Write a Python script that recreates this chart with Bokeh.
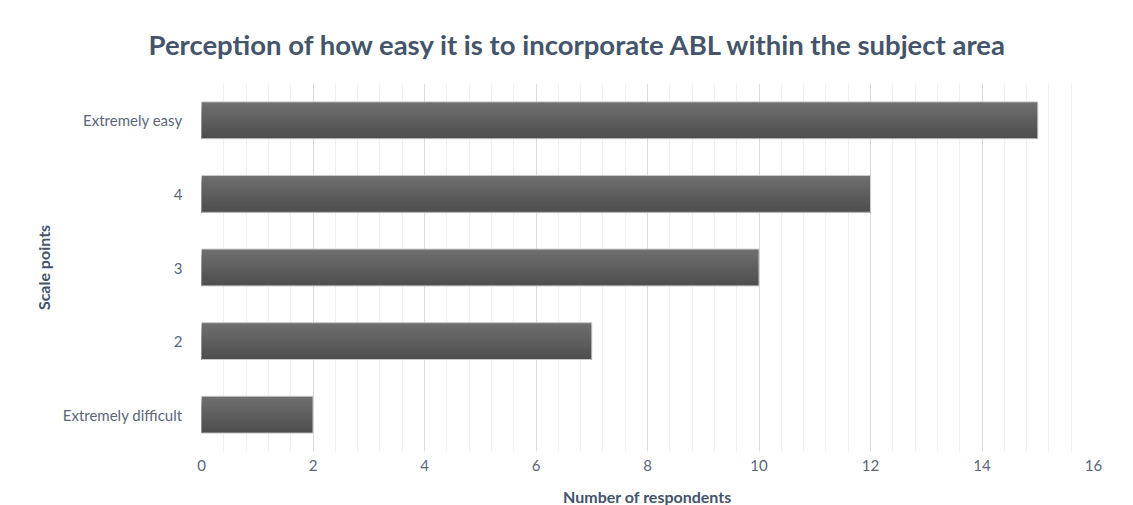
from bokeh.plotting import figure
from bokeh.models import ColumnDataSource, FixedTicker, Range1d, SingleIntervalTicker
from bokeh.embed import file_html
from bokeh.resources import INLINE

# ---- data ----
categories = ["Extremely difficult", "2", "3", "4", "Extremely easy"]
counts = [2, 7, 10, 12, 15]
x_ticks = [0, 2, 4, 6, 8, 10, 12, 14, 16]

title_text = "Perception of how easy it is to incorporate ABL within the subject area"
x_label = "Number of respondents"
y_label = "Scale points"

FONT = "Lato"
TEXT = "#44546a"
TICK = "#5b6679"

p = figure(frame_width=892, frame_height=368, output_backend="svg", toolbar_location=None,
           x_range=Range1d(0, 16), y_range=Range1d(-0.5, len(categories) - 0.5),
           min_border_left=201, min_border_right=32, min_border_top=83,
           min_border_bottom=40, background_fill_color="white",
           border_fill_color="white", outline_line_color=None)

p.title.text = title_text
p.title.text_font = FONT
p.title.text_font_size = "27.5px"
p.title.text_font_style = "bold"
p.title.text_color = TEXT
p.title.align = "left"
p.title.offset = -53
p.title.standoff = 45

# gradient bars built as nested layers (light top -> dark bottom)
bar_h = 0.5
N = 24
top_c = (0x70, 0x70, 0x70)
bot_c = (0x4d, 0x4d, 0x4d)
L, R, B, T, C = [], [], [], [], []
for i, c in enumerate(counts):
    for k in range(N):
        t = k / N
        L.append(0)
        R.append(c)
        B.append(i - bar_h / 2)
        T.append(i + bar_h / 2 - t * bar_h)
        col = tuple(int(round(top_c[j] + (bot_c[j] - top_c[j]) * (k + 0.5) / N)) for j in range(3))
        C.append("#%02x%02x%02x" % col)
src = ColumnDataSource(dict(left=L, right=R, bottom=B, top=T, color=C))
p.quad(left="left", right="right", bottom="bottom", top="top", fill_color="color",
       line_color=None, source=src)

src2 = ColumnDataSource(dict(y=list(range(len(categories))), right=counts))
p.hbar(y="y", left=0, right="right", height=bar_h, fill_color=None,
       line_color="#c8c8c8", line_width=1, source=src2)

# grid
p.xgrid.ticker = SingleIntervalTicker(interval=2, num_minor_ticks=5)
p.xgrid.grid_line_color = "#d6dce5"
p.xgrid.grid_line_width = 1
p.xgrid.minor_grid_line_color = "#eef0f3"
p.xgrid.minor_grid_line_width = 1
p.ygrid.grid_line_color = None
p.xgrid.level = "underlay"

# axes
p.xaxis.ticker = FixedTicker(ticks=x_ticks)
p.yaxis.ticker = FixedTicker(ticks=list(range(len(categories))))
p.yaxis.major_label_overrides = {i: c for i, c in enumerate(categories)}
for ax in (p.xaxis, p.yaxis):
    ax.axis_line_color = None
    ax.major_tick_line_color = None
    ax.minor_tick_line_color = None
    ax.major_label_text_font = FONT
    ax.major_label_text_font_size = "15px"
    ax.major_label_text_color = TICK
    ax.axis_label_text_font = FONT
    ax.axis_label_text_font_size = "16px"
    ax.axis_label_text_font_style = "bold"
    ax.axis_label_text_color = TEXT
p.xaxis.axis_label = x_label
p.yaxis.axis_label = y_label
p.xaxis.major_label_standoff = 2
p.xaxis.axis_label_standoff = 13
p.yaxis.major_label_standoff = 13
p.yaxis.axis_label_standoff = 7

open("out.html", "w").write(file_html(p, INLINE))
